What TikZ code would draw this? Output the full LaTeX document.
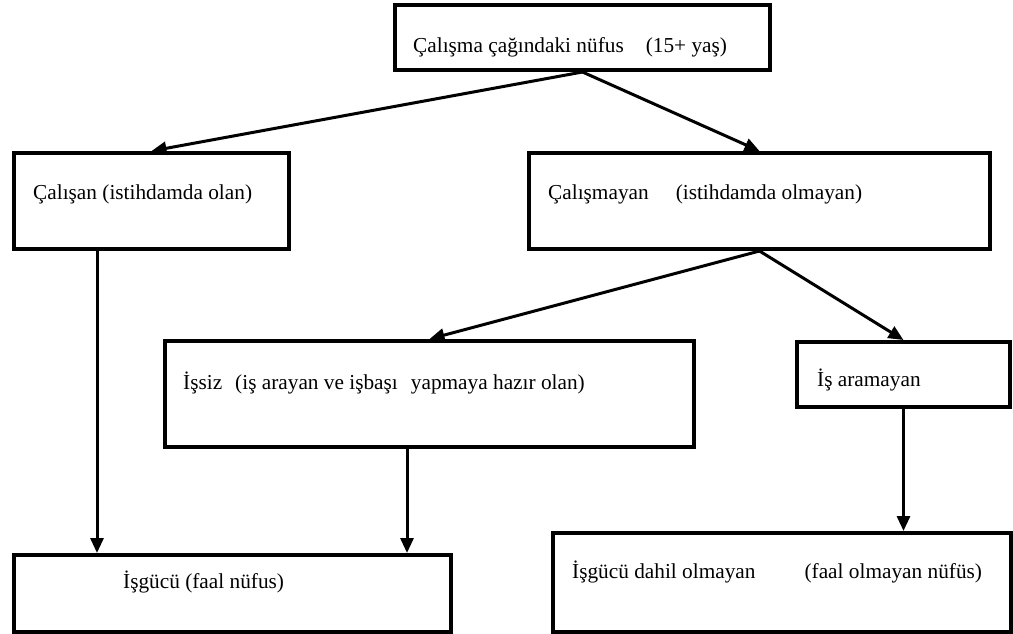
\documentclass[tikz,border=0pt]{standalone}
\usepackage{fontspec}
\setmainfont{Liberation Serif}
\usetikzlibrary{arrows.meta}
\begin{document}
\begin{tikzpicture}[x=1pt,y=-1pt,
  box/.style={draw=black, line width=4pt, fill=white, inner sep=0pt, anchor=north west},
  txt/.style={anchor=base west, inner sep=0pt, font=\fontsize{21.3}{25}\selectfont},
  arr/.style={draw=black, line width=3pt, -{Triangle[length=15pt,width=13pt]}}]
\useasboundingbox[fill=white] (0,0) rectangle (1013,633);
% boxes
\node[box, minimum width=375pt, minimum height=65pt] (top) at (393,3) {};
\node[box, minimum width=275pt, minimum height=96pt] (calisan) at (12,151) {};
\node[box, minimum width=461pt, minimum height=96pt] (calismayan) at (527,151) {};
\node[box, minimum width=529pt, minimum height=106pt] (issiz) at (163,339) {};
\node[box, minimum width=213pt, minimum height=65pt] (isaramayan) at (795,340) {};
\node[box, minimum width=437pt, minimum height=77pt] (isgucu) at (12,553) {};
\node[box, minimum width=458pt, minimum height=99pt] (disi) at (551,531) {};
% texts
\node[txt] (t1) at (413,52) {Çalışma çağındaki nüfus\hspace{22pt}(15+ yaş)};
\node[txt] (t2) at (33,199) {Çalışan (istihdamda olan)};
\node[txt] (t3) at (548,199) {Çalışmayan\hspace{27pt}(istihdamda olmayan)};
\node[txt] (t4) at (183,389) {İşsiz\hspace{13pt}(iş arayan ve işbaşı\hspace{13pt}yapmaya hazır olan)};
\node[txt] (t5) at (817,386) {İş aramayan};
\node[txt] (t6) at (123,588) {İşgücü (faal nüfus)};
\node[txt] (t7) at (572,578) {İşgücü dahil olmayan\hspace{49pt}(faal olmayan nüfüs)};
% connectors
\draw[arr] (top.south) -- (calisan.north);
\draw[arr] (top.south) -- (calismayan.north);
\draw[arr] (calismayan.south) -- (issiz.north);
\draw[arr] (calismayan.south) -- (isaramayan.north);
\draw[arr] ([xshift=85pt]calisan.south west) coordinate (p1) -- (p1 |- isgucu.north);
\draw[arr] ([xshift=244pt]issiz.south west) coordinate (p2) -- (p2 |- isgucu.north);
\draw[arr] (isaramayan.south) -- (isaramayan.south |- disi.north);
\end{tikzpicture}
\end{document}
